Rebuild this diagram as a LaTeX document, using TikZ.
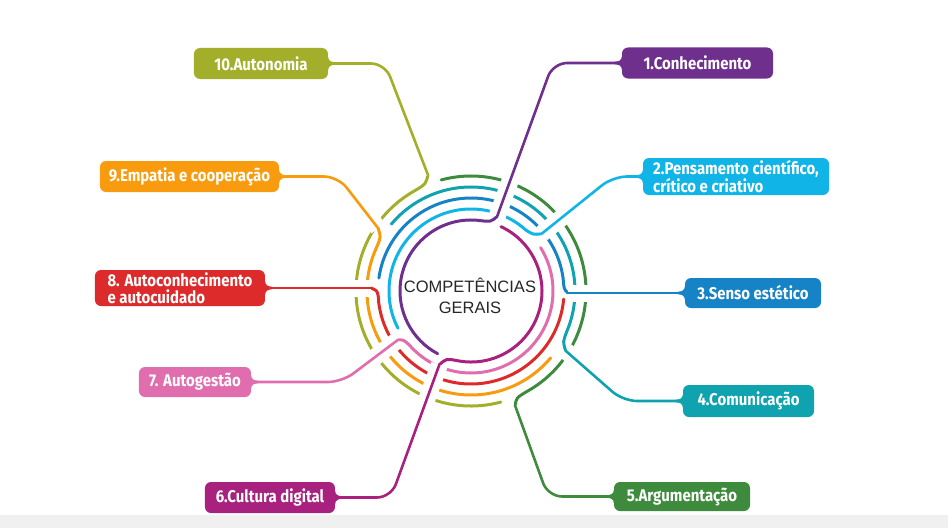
\documentclass[tikz,border=0pt]{standalone}
\usepackage{fontspec}
\setmainfont{Liberation Sans}
\newfontfamily\lblfont{Fira Sans}[FakeStretch=0.88]
\definecolor{kpurple}{HTML}{6E2F8D}
\definecolor{kcyan}{HTML}{10B4E7}
\definecolor{kblue}{HTML}{1583C6}
\definecolor{kteal}{HTML}{0EA3AF}
\definecolor{kgreen}{HTML}{3F8B3E}
\definecolor{kmagenta}{HTML}{A8217F}
\definecolor{kpink}{HTML}{E06DAD}
\definecolor{kred}{HTML}{DD2B2B}
\definecolor{korange}{HTML}{F89B0E}
\definecolor{kolive}{HTML}{A3AF2A}
\definecolor{kdark}{HTML}{262626}
\definecolor{kgray}{HTML}{F0F0F0}
\tikzset{
  lbl/.style={fill=#1, text=white, rounded corners=6pt, inner xsep=3pt, inner ysep=2pt,
    minimum height=31pt, align=left, font=\lblfont\bfseries\fontsize{17}{16.5}\selectfont},
  ring/.style={draw=#1, line width=3pt, line cap=round},
  link/.style={draw=#1, line width=2.6pt, rounded corners=14pt,
    preaction={draw=white, line width=17pt, line cap=butt}},
}
\newcommand{\fillet}[3]{\fill[#1, shift={(#2)}, xscale=#3] (0,6.5) .. controls (0,2.8) and (-3,1.3) .. (-7,1.3) -- (-7,-1.3) .. controls (-3,-1.3) and (0,-2.8) .. (0,-6.5) -- cycle;}
\begin{document}
\begin{tikzpicture}[x=1pt,y=1pt,line join=round,line cap=round]
	\useasboundingbox (-471,-237) rectangle (477,291);
	\fill[kgray] (-471,-237) rectangle (477,-224);
	% labels
	\node[lbl=kpurple, minimum width=151pt] (k1) at (226.5,228) {1.Conhecimento};
	\node[lbl=kcyan, minimum width=186pt, minimum height=37pt] (k2) at (265,114.5) {2.Pensamento científico,\\crítico e criativo};
	\node[lbl=kblue, minimum width=136pt, minimum height=30pt] (k3) at (282,-2) {3.Senso estético};
	\node[lbl=kteal, minimum width=131pt, minimum height=32pt] (k4) at (277.5,-110) {4.Comunicação};
	\node[lbl=kgreen, minimum width=136pt, minimum height=29pt] (k5) at (211,-205.5) {5.Argumentação};
	\node[lbl=kmagenta, minimum width=130pt] (k6) at (-201,-206.5) {6.Cultura digital};
	\node[lbl=kpink, minimum width=112pt, minimum height=30pt] (k7) at (-276,-91) {7. Autogestão};
	\node[lbl=kred, minimum width=170pt, minimum height=36pt] (k8) at (-291,3) {8. Autoconhecimento\\e autocuidado};
	\node[lbl=korange, minimum width=179pt] (k9) at (-281.5,114.5) {9.Empatia e cooperação};
	\node[lbl=kolive, minimum width=134pt] (k10) at (-210,227.5) {10.Autonomia};
	\node[font=\fontsize{16.5}{21}\selectfont, text=kdark, align=center] (core) at (-1,-5) {COMPETÊNCIAS\\GERAIS};
	% ends of the links, next to the rings
	\coordinate (q1) at (26.1,74.5);
	\coordinate (q2) at (70.7,57.3);
	\coordinate (q3) at (97,-2);
	\coordinate (q4) at (94.7,-59.8);
	\coordinate (q5) at (44.2,-114.8);
	\coordinate (q6) at (-31.6,-73.6);
	\coordinate (q7) at (-73.1,-48.9);
	\coordinate (q8) at (-100,3);
	\coordinate (q9) at (-92.9,62.8);
	\coordinate (q10) at (-43,116);
	% rings
	\foreach \q/\c/\cr/\a/\b/\r/\col in {q1/74/72/82/242/71/kpurple, q6/250/72/258/425/71/kmagenta,
		q2/42/84/48/207/82/kcyan, q7/216/83/222/392/82/kpink,
		q3/1/93/8/172/93/kblue, q8/180/93/187/355/93/kred,
		q4/331/105/337/500/104/kteal, q9/149/105/155/320/104/korange,
		q5/293/116/299/465/115/kgreen, q10/113/116/119/285/115/kolive}
		\draw[ring=\col] (\q) .. controls (\c:\cr) .. (\a:\r) arc[start angle=\a, end angle=\b, radius=\r];
	% links
	\draw[link=kpurple] (k1.west) -- (82,228) -- (q1);
	\draw[link=kcyan] (k2.west) -- (142,114.5) -- (q2);
	\draw[link=kblue] (k3.west) -- (q3);
	\draw[link=kteal] (k4.west) -- (152,-110) -- (q4);
	\draw[link=kgreen] (k5.west) -- (77,-205.5) -- (q5);
	\draw[link=kmagenta] (k6.east) -- (-80,-206.5) -- (q6);
	\draw[link=kpink] (k7.east) -- (-129,-91) -- (q7);
	\draw[link=kred] (k8.east) -- (q8);
	\draw[link=korange] (k9.east) -- (-133,114.5) -- (q9);
	\draw[link=kolive] (k10.east) -- (-86,227.5) -- (q10);
	\fillet{kpurple}{k1.west}{1} \fillet{kcyan}{k2.west}{1} \fillet{kblue}{k3.west}{1}
	\fillet{kteal}{k4.west}{1} \fillet{kgreen}{k5.west}{1}
	\fillet{kmagenta}{k6.east}{-1} \fillet{kpink}{k7.east}{-1} \fillet{kred}{k8.east}{-1}
	\fillet{korange}{k9.east}{-1} \fillet{kolive}{k10.east}{-1}
\end{tikzpicture}
\end{document}
